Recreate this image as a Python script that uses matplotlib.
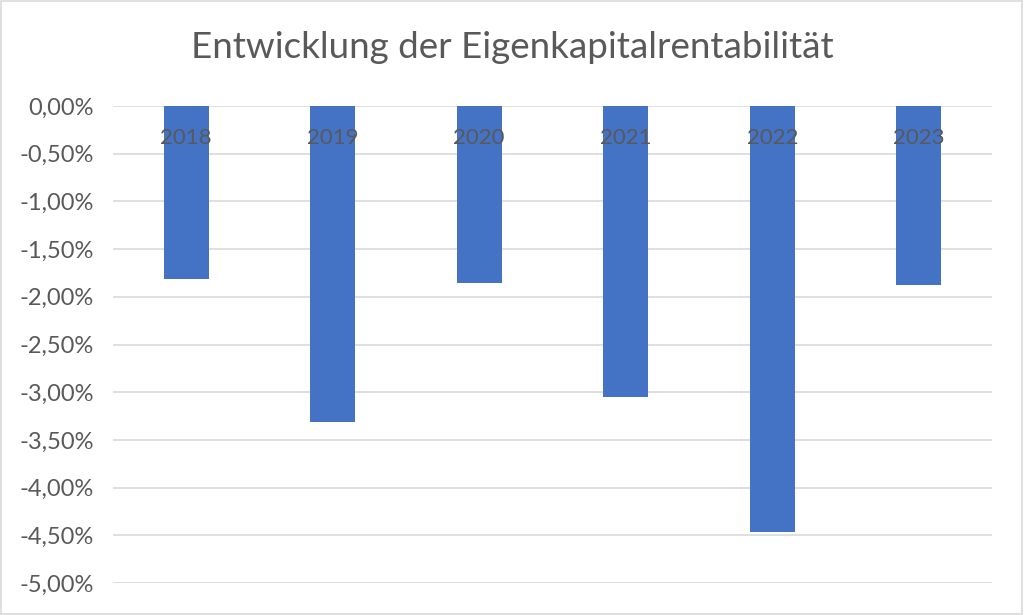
import matplotlib.pyplot as plt
from matplotlib.patches import Rectangle
from matplotlib.ticker import FuncFormatter

# Daten
jahre = ["2018", "2019", "2020", "2021", "2022", "2023"]
ekr = [-1.81, -3.31, -1.86, -3.05, -4.47, -1.88]  # in %

plt.rcParams["font.family"] = ["Lato", "DejaVu Sans"]

fig = plt.figure(figsize=(10.24, 6.15), dpi=100)
ax = fig.add_axes([113/1024, 1 - 583/615, (992-113)/1024, (583-106)/615])

x = list(range(len(jahre)))
ax.bar(x, ekr, width=0.31, color="#4472C4", zorder=3)

ax.set_ylim(-5, 0)
ax.set_xlim(-0.5, len(jahre) - 0.5)
ax.set_yticks([-5 + 0.5*i for i in range(11)])
ax.yaxis.set_major_formatter(FuncFormatter(lambda v, p: f"{v:.2f}%".replace(".", ",")))
ax.grid(axis="y", color="#d9d9d9", linewidth=1.2, zorder=0)

for s in ["top", "left", "right", "bottom"]:
    ax.spines[s].set_visible(False)
ax.set_xticks([])
ax.tick_params(axis="y", length=0, pad=14, labelsize=17, labelcolor="#595959")

# Kategoriebeschriftung an der Nulllinie (über den Balken)
for xi, j in zip(x, jahre):
    ax.annotate(j, (xi, 0), xytext=(0, -23), textcoords="offset points",
                ha="center", va="center", fontsize=16, color="#595959", zorder=5)

fig.suptitle("Entwicklung der Eigenkapitalrentabilität", y=1 - 48/615, va="center",
             fontsize=26.5, color="#595959")

fig.patches.append(Rectangle((0.001, 0.002), 0.997, 0.996, transform=fig.transFigure,
                             fill=False, edgecolor="#d9d9d9", linewidth=1.2))

fig.savefig("out.png", dpi=100)
